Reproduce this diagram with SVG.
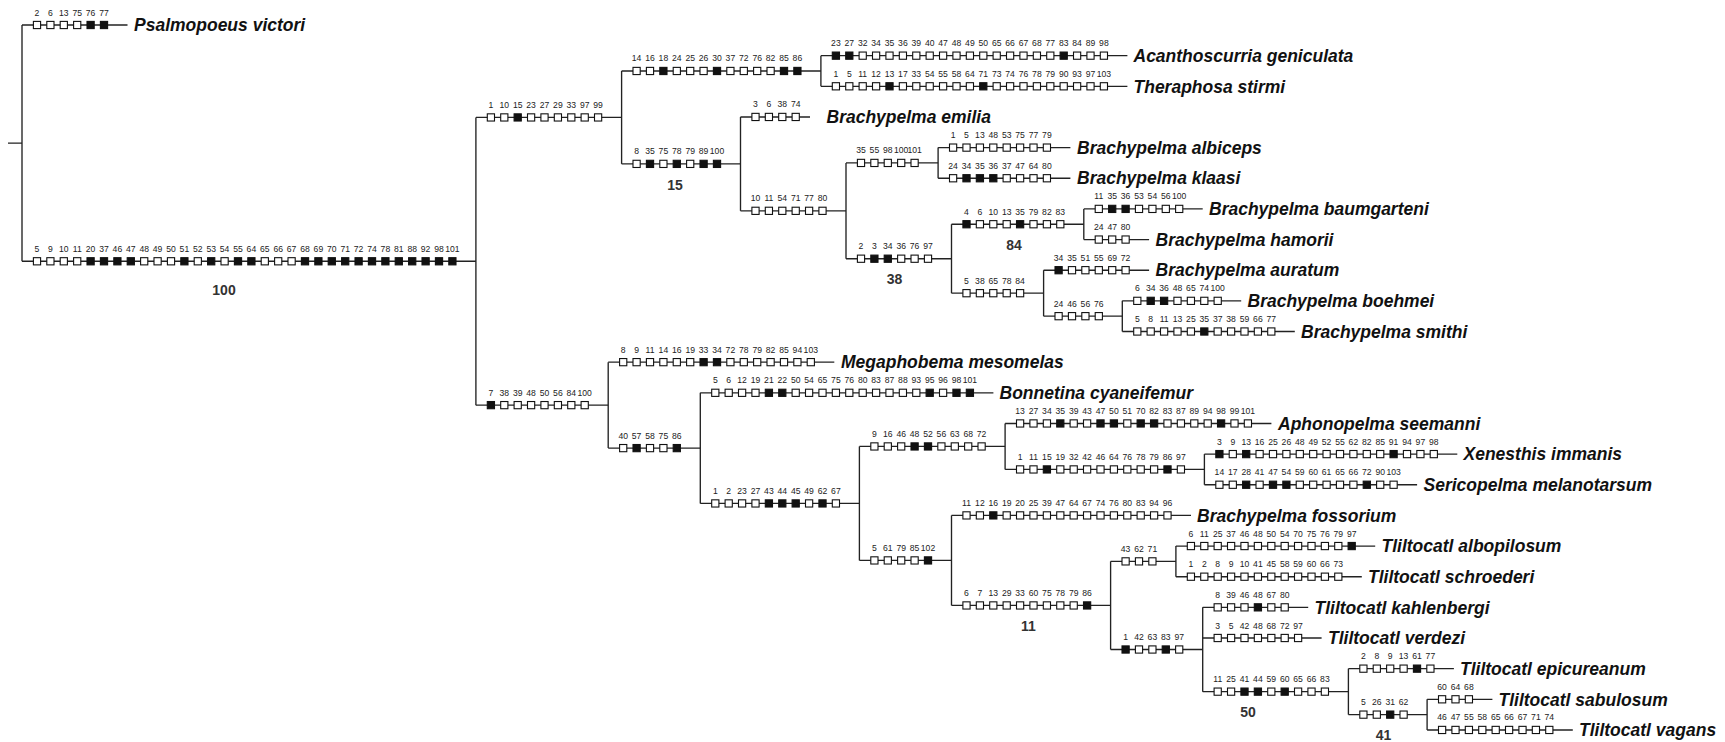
<svg xmlns="http://www.w3.org/2000/svg" width="1725" height="742" viewBox="0 0 1725 742">
<style>
text{font-family:"Liberation Sans",Arial,sans-serif;font-size:8.6px;fill:#222;text-anchor:middle}
text.t{font-size:17.5px;font-weight:bold;font-style:italic;fill:#111;text-anchor:start}
text.b{font-size:14px;font-weight:bold;fill:#333;text-anchor:middle}
.c path{fill:none;stroke:#222;stroke-width:1.35}
</style>
<defs>
<rect id="o" x="-3.6" y="-3.6" width="7.2" height="7.2" fill="#fff" stroke="#111" stroke-width="1.1"/>
<rect id="f" x="-3.6" y="-3.6" width="7.2" height="7.2" fill="#111" stroke="#111" stroke-width="1.1"/>
</defs>
<rect width="1725" height="742" fill="#fff"/>
<g id="connectors" class="c">
<path d="M8 143.14H22M22 25V261.28"/>
<path d="M22 25H127.5"/>
<path d="M22 261.28H475.9"/>
<path d="M475.9 117.43V405.13"/>
<path d="M475.9 117.43H621.6"/>
<path d="M621.6 70.98V163.88"/>
<path d="M621.6 70.98H820.9"/>
<path d="M820.9 55.65V86.3"/>
<path d="M820.9 55.65H1127.4"/>
<path d="M820.9 86.3H1127.4"/>
<path d="M621.6 163.88H740.5"/>
<path d="M740.5 116.95V210.82"/>
<path d="M740.5 116.95H810"/>
<path d="M740.5 210.82H846"/>
<path d="M846 162.93V258.71"/>
<path d="M846 162.93H938.1"/>
<path d="M938.1 147.6V178.25"/>
<path d="M938.1 147.6H1070.4"/>
<path d="M938.1 178.25H1070.4"/>
<path d="M846 258.71H951.5"/>
<path d="M951.5 224.23V293.19"/>
<path d="M951.5 224.23H1083.8"/>
<path d="M1083.8 208.9V239.55"/>
<path d="M1083.8 208.9H1202.7"/>
<path d="M1083.8 239.55H1149.1"/>
<path d="M951.5 293.19H1043.6"/>
<path d="M1043.6 270.2V316.18"/>
<path d="M1043.6 270.2H1149.1"/>
<path d="M1043.6 316.18H1122.3"/>
<path d="M1122.3 300.85V331.5"/>
<path d="M1122.3 300.85H1241.2"/>
<path d="M1122.3 331.5H1294.8"/>
<path d="M475.9 405.13H608.2"/>
<path d="M608.2 362.15V448.11"/>
<path d="M608.2 362.15H834.3"/>
<path d="M608.2 448.11H700.3"/>
<path d="M700.3 392.8V503.43"/>
<path d="M700.3 392.8H993.4"/>
<path d="M700.3 503.43H859.4"/>
<path d="M859.4 446.44V560.42"/>
<path d="M859.4 446.44H1005.1"/>
<path d="M1005.1 423.45V469.43"/>
<path d="M1005.1 423.45H1271.4"/>
<path d="M1005.1 469.43H1204.4"/>
<path d="M1204.4 454.1V484.75"/>
<path d="M1204.4 454.1H1457.3"/>
<path d="M1204.4 484.75H1417.1"/>
<path d="M859.4 560.42H951.5"/>
<path d="M951.5 515.4V605.44"/>
<path d="M951.5 515.4H1191"/>
<path d="M951.5 605.44H1110.6"/>
<path d="M1110.6 561.38V649.5"/>
<path d="M1110.6 561.38H1175.9"/>
<path d="M1175.9 546.05V576.7"/>
<path d="M1175.9 546.05H1375.2"/>
<path d="M1175.9 576.7H1361.8"/>
<path d="M1110.6 649.5H1202.7"/>
<path d="M1202.7 607.35V691.64"/>
<path d="M1202.7 607.35H1308.2"/>
<path d="M1202.7 638H1321.6"/>
<path d="M1202.7 691.64H1348.4"/>
<path d="M1348.4 668.65V714.63"/>
<path d="M1348.4 668.65H1453.9"/>
<path d="M1348.4 714.63H1427.1"/>
<path d="M1427.1 699.3V729.95"/>
<path d="M1427.1 699.3H1492.4"/>
<path d="M1427.1 729.95H1572.8"/>
</g>

<g id="psalmopoeus-victori">
<g transform="translate(37,25)">
<use href="#o"/><text y="-9.5">2</text>
<use href="#o" x="13.4"/><text x="13.4" y="-9.5">6</text>
<use href="#o" x="26.8"/><text x="26.8" y="-9.5">13</text>
<use href="#o" x="40.2"/><text x="40.2" y="-9.5">75</text>
<use href="#f" x="53.6"/><text x="53.6" y="-9.5">76</text>
<use href="#f" x="67"/><text x="67" y="-9.5">77</text>
</g>
<text class="t" x="134" y="31.2">Psalmopoeus victori</text>
</g>

<g id="node-ingroup">
<g transform="translate(37,261.28)">
<use href="#o"/><text y="-9.5">5</text>
<use href="#o" x="13.4"/><text x="13.4" y="-9.5">9</text>
<use href="#o" x="26.8"/><text x="26.8" y="-9.5">10</text>
<use href="#o" x="40.2"/><text x="40.2" y="-9.5">11</text>
<use href="#f" x="53.6"/><text x="53.6" y="-9.5">20</text>
<use href="#f" x="67"/><text x="67" y="-9.5">37</text>
<use href="#f" x="80.4"/><text x="80.4" y="-9.5">46</text>
<use href="#f" x="93.8"/><text x="93.8" y="-9.5">47</text>
<use href="#o" x="107.2"/><text x="107.2" y="-9.5">48</text>
<use href="#o" x="120.6"/><text x="120.6" y="-9.5">49</text>
<use href="#o" x="134"/><text x="134" y="-9.5">50</text>
<use href="#f" x="147.4"/><text x="147.4" y="-9.5">51</text>
<use href="#o" x="160.8"/><text x="160.8" y="-9.5">52</text>
<use href="#f" x="174.2"/><text x="174.2" y="-9.5">53</text>
<use href="#o" x="187.6"/><text x="187.6" y="-9.5">54</text>
<use href="#f" x="201"/><text x="201" y="-9.5">55</text>
<use href="#f" x="214.4"/><text x="214.4" y="-9.5">64</text>
<use href="#o" x="227.8"/><text x="227.8" y="-9.5">65</text>
<use href="#o" x="241.2"/><text x="241.2" y="-9.5">66</text>
<use href="#o" x="254.6"/><text x="254.6" y="-9.5">67</text>
<use href="#f" x="268"/><text x="268" y="-9.5">68</text>
<use href="#f" x="281.4"/><text x="281.4" y="-9.5">69</text>
<use href="#f" x="294.8"/><text x="294.8" y="-9.5">70</text>
<use href="#f" x="308.2"/><text x="308.2" y="-9.5">71</text>
<use href="#f" x="321.6"/><text x="321.6" y="-9.5">72</text>
<use href="#f" x="335"/><text x="335" y="-9.5">74</text>
<use href="#f" x="348.4"/><text x="348.4" y="-9.5">78</text>
<use href="#f" x="361.8"/><text x="361.8" y="-9.5">81</text>
<use href="#f" x="375.2"/><text x="375.2" y="-9.5">88</text>
<use href="#f" x="388.6"/><text x="388.6" y="-9.5">92</text>
<use href="#f" x="402"/><text x="402" y="-9.5">98</text>
<use href="#f" x="415.4"/><text x="415.4" y="-9.5">101</text>
</g>
<text class="b" x="224" y="294.5">100</text>
</g>

<g id="node-a">
<g transform="translate(490.9,117.43)">
<use href="#o"/><text y="-9.5">1</text>
<use href="#o" x="13.4"/><text x="13.4" y="-9.5">10</text>
<use href="#f" x="26.8"/><text x="26.8" y="-9.5">15</text>
<use href="#o" x="40.2"/><text x="40.2" y="-9.5">23</text>
<use href="#o" x="53.6"/><text x="53.6" y="-9.5">27</text>
<use href="#o" x="67"/><text x="67" y="-9.5">29</text>
<use href="#o" x="80.4"/><text x="80.4" y="-9.5">33</text>
<use href="#o" x="93.8"/><text x="93.8" y="-9.5">97</text>
<use href="#o" x="107.2"/><text x="107.2" y="-9.5">99</text>
</g>
</g>

<g id="node-b">
<g transform="translate(636.6,70.98)">
<use href="#o"/><text y="-9.5">14</text>
<use href="#o" x="13.4"/><text x="13.4" y="-9.5">16</text>
<use href="#f" x="26.8"/><text x="26.8" y="-9.5">18</text>
<use href="#o" x="40.2"/><text x="40.2" y="-9.5">24</text>
<use href="#o" x="53.6"/><text x="53.6" y="-9.5">25</text>
<use href="#o" x="67"/><text x="67" y="-9.5">26</text>
<use href="#f" x="80.4"/><text x="80.4" y="-9.5">30</text>
<use href="#o" x="93.8"/><text x="93.8" y="-9.5">37</text>
<use href="#o" x="107.2"/><text x="107.2" y="-9.5">72</text>
<use href="#o" x="120.6"/><text x="120.6" y="-9.5">76</text>
<use href="#o" x="134"/><text x="134" y="-9.5">82</text>
<use href="#f" x="147.4"/><text x="147.4" y="-9.5">85</text>
<use href="#f" x="160.8"/><text x="160.8" y="-9.5">86</text>
</g>
</g>

<g id="acanthoscurria-geniculata">
<g transform="translate(835.9,55.65)">
<use href="#f"/><text y="-9.5">23</text>
<use href="#f" x="13.4"/><text x="13.4" y="-9.5">27</text>
<use href="#o" x="26.8"/><text x="26.8" y="-9.5">32</text>
<use href="#o" x="40.2"/><text x="40.2" y="-9.5">34</text>
<use href="#o" x="53.6"/><text x="53.6" y="-9.5">35</text>
<use href="#o" x="67"/><text x="67" y="-9.5">36</text>
<use href="#o" x="80.4"/><text x="80.4" y="-9.5">39</text>
<use href="#o" x="93.8"/><text x="93.8" y="-9.5">40</text>
<use href="#o" x="107.2"/><text x="107.2" y="-9.5">47</text>
<use href="#o" x="120.6"/><text x="120.6" y="-9.5">48</text>
<use href="#o" x="134"/><text x="134" y="-9.5">49</text>
<use href="#o" x="147.4"/><text x="147.4" y="-9.5">50</text>
<use href="#o" x="160.8"/><text x="160.8" y="-9.5">65</text>
<use href="#o" x="174.2"/><text x="174.2" y="-9.5">66</text>
<use href="#o" x="187.6"/><text x="187.6" y="-9.5">67</text>
<use href="#o" x="201"/><text x="201" y="-9.5">68</text>
<use href="#o" x="214.4"/><text x="214.4" y="-9.5">77</text>
<use href="#f" x="227.8"/><text x="227.8" y="-9.5">83</text>
<use href="#o" x="241.2"/><text x="241.2" y="-9.5">84</text>
<use href="#o" x="254.6"/><text x="254.6" y="-9.5">89</text>
<use href="#o" x="268"/><text x="268" y="-9.5">98</text>
</g>
<text class="t" x="1133.5" y="61.85">Acanthoscurria geniculata</text>
</g>

<g id="theraphosa-stirmi">
<g transform="translate(835.9,86.3)">
<use href="#o"/><text y="-9.5">1</text>
<use href="#o" x="13.4"/><text x="13.4" y="-9.5">5</text>
<use href="#o" x="26.8"/><text x="26.8" y="-9.5">11</text>
<use href="#o" x="40.2"/><text x="40.2" y="-9.5">12</text>
<use href="#f" x="53.6"/><text x="53.6" y="-9.5">13</text>
<use href="#o" x="67"/><text x="67" y="-9.5">17</text>
<use href="#o" x="80.4"/><text x="80.4" y="-9.5">33</text>
<use href="#o" x="93.8"/><text x="93.8" y="-9.5">54</text>
<use href="#o" x="107.2"/><text x="107.2" y="-9.5">55</text>
<use href="#o" x="120.6"/><text x="120.6" y="-9.5">58</text>
<use href="#o" x="134"/><text x="134" y="-9.5">64</text>
<use href="#f" x="147.4"/><text x="147.4" y="-9.5">71</text>
<use href="#o" x="160.8"/><text x="160.8" y="-9.5">73</text>
<use href="#o" x="174.2"/><text x="174.2" y="-9.5">74</text>
<use href="#o" x="187.6"/><text x="187.6" y="-9.5">76</text>
<use href="#o" x="201"/><text x="201" y="-9.5">78</text>
<use href="#o" x="214.4"/><text x="214.4" y="-9.5">79</text>
<use href="#o" x="227.8"/><text x="227.8" y="-9.5">90</text>
<use href="#o" x="241.2"/><text x="241.2" y="-9.5">93</text>
<use href="#o" x="254.6"/><text x="254.6" y="-9.5">97</text>
<use href="#o" x="268"/><text x="268" y="-9.5">103</text>
</g>
<text class="t" x="1133.5" y="92.5">Theraphosa stirmi</text>
</g>

<g id="node-c">
<g transform="translate(636.6,163.88)">
<use href="#o"/><text y="-9.5">8</text>
<use href="#f" x="13.4"/><text x="13.4" y="-9.5">35</text>
<use href="#o" x="26.8"/><text x="26.8" y="-9.5">75</text>
<use href="#f" x="40.2"/><text x="40.2" y="-9.5">78</text>
<use href="#o" x="53.6"/><text x="53.6" y="-9.5">79</text>
<use href="#f" x="67"/><text x="67" y="-9.5">89</text>
<use href="#f" x="80.4"/><text x="80.4" y="-9.5">100</text>
</g>
<text class="b" x="675" y="189.5">15</text>
</g>

<g id="brachypelma-emilia">
<g transform="translate(755.5,116.95)">
<use href="#o"/><text y="-9.5">3</text>
<use href="#o" x="13.4"/><text x="13.4" y="-9.5">6</text>
<use href="#o" x="26.8"/><text x="26.8" y="-9.5">38</text>
<use href="#o" x="40.2"/><text x="40.2" y="-9.5">74</text>
</g>
<text class="t" x="826.5" y="123.15">Brachypelma emilia</text>
</g>

<g id="node-d">
<g transform="translate(755.5,210.82)">
<use href="#o"/><text y="-9.5">10</text>
<use href="#o" x="13.4"/><text x="13.4" y="-9.5">11</text>
<use href="#o" x="26.8"/><text x="26.8" y="-9.5">54</text>
<use href="#o" x="40.2"/><text x="40.2" y="-9.5">71</text>
<use href="#o" x="53.6"/><text x="53.6" y="-9.5">77</text>
<use href="#o" x="67"/><text x="67" y="-9.5">80</text>
</g>
</g>

<g id="node-e">
<g transform="translate(861,162.93)">
<use href="#o"/><text y="-9.5">35</text>
<use href="#o" x="13.4"/><text x="13.4" y="-9.5">55</text>
<use href="#o" x="26.8"/><text x="26.8" y="-9.5">98</text>
<use href="#o" x="40.2"/><text x="40.2" y="-9.5">100</text>
<use href="#o" x="53.6"/><text x="53.6" y="-9.5">101</text>
</g>
</g>

<g id="brachypelma-albiceps">
<g transform="translate(953.1,147.6)">
<use href="#o"/><text y="-9.5">1</text>
<use href="#o" x="13.4"/><text x="13.4" y="-9.5">5</text>
<use href="#o" x="26.8"/><text x="26.8" y="-9.5">13</text>
<use href="#o" x="40.2"/><text x="40.2" y="-9.5">48</text>
<use href="#o" x="53.6"/><text x="53.6" y="-9.5">53</text>
<use href="#o" x="67"/><text x="67" y="-9.5">75</text>
<use href="#o" x="80.4"/><text x="80.4" y="-9.5">77</text>
<use href="#o" x="93.8"/><text x="93.8" y="-9.5">79</text>
</g>
<text class="t" x="1077" y="153.8">Brachypelma albiceps</text>
</g>

<g id="brachypelma-klaasi">
<g transform="translate(953.1,178.25)">
<use href="#o"/><text y="-9.5">24</text>
<use href="#f" x="13.4"/><text x="13.4" y="-9.5">34</text>
<use href="#f" x="26.8"/><text x="26.8" y="-9.5">35</text>
<use href="#f" x="40.2"/><text x="40.2" y="-9.5">36</text>
<use href="#o" x="53.6"/><text x="53.6" y="-9.5">37</text>
<use href="#o" x="67"/><text x="67" y="-9.5">47</text>
<use href="#o" x="80.4"/><text x="80.4" y="-9.5">64</text>
<use href="#o" x="93.8"/><text x="93.8" y="-9.5">80</text>
</g>
<text class="t" x="1077" y="184.45">Brachypelma klaasi</text>
</g>

<g id="node-g">
<g transform="translate(861,258.71)">
<use href="#o"/><text y="-9.5">2</text>
<use href="#f" x="13.4"/><text x="13.4" y="-9.5">3</text>
<use href="#f" x="26.8"/><text x="26.8" y="-9.5">34</text>
<use href="#o" x="40.2"/><text x="40.2" y="-9.5">36</text>
<use href="#o" x="53.6"/><text x="53.6" y="-9.5">76</text>
<use href="#o" x="67"/><text x="67" y="-9.5">97</text>
</g>
<text class="b" x="894.5" y="284">38</text>
</g>

<g id="node-i">
<g transform="translate(966.5,224.23)">
<use href="#f"/><text y="-9.5">4</text>
<use href="#o" x="13.4"/><text x="13.4" y="-9.5">6</text>
<use href="#o" x="26.8"/><text x="26.8" y="-9.5">10</text>
<use href="#o" x="40.2"/><text x="40.2" y="-9.5">13</text>
<use href="#f" x="53.6"/><text x="53.6" y="-9.5">35</text>
<use href="#o" x="67"/><text x="67" y="-9.5">79</text>
<use href="#o" x="80.4"/><text x="80.4" y="-9.5">82</text>
<use href="#o" x="93.8"/><text x="93.8" y="-9.5">83</text>
</g>
<text class="b" x="1014" y="249.5">84</text>
</g>

<g id="brachypelma-baumgarteni">
<g transform="translate(1098.8,208.9)">
<use href="#o"/><text y="-9.5">11</text>
<use href="#f" x="13.4"/><text x="13.4" y="-9.5">35</text>
<use href="#f" x="26.8"/><text x="26.8" y="-9.5">36</text>
<use href="#o" x="40.2"/><text x="40.2" y="-9.5">53</text>
<use href="#o" x="53.6"/><text x="53.6" y="-9.5">54</text>
<use href="#o" x="67"/><text x="67" y="-9.5">56</text>
<use href="#o" x="80.4"/><text x="80.4" y="-9.5">100</text>
</g>
<text class="t" x="1209" y="215.1">Brachypelma baumgarteni</text>
</g>

<g id="brachypelma-hamorii">
<g transform="translate(1098.8,239.55)">
<use href="#o"/><text y="-9.5">24</text>
<use href="#o" x="13.4"/><text x="13.4" y="-9.5">47</text>
<use href="#o" x="26.8"/><text x="26.8" y="-9.5">80</text>
</g>
<text class="t" x="1155.5" y="245.75">Brachypelma hamorii</text>
</g>

<g id="node-k">
<g transform="translate(966.5,293.19)">
<use href="#o"/><text y="-9.5">5</text>
<use href="#o" x="13.4"/><text x="13.4" y="-9.5">38</text>
<use href="#o" x="26.8"/><text x="26.8" y="-9.5">65</text>
<use href="#o" x="40.2"/><text x="40.2" y="-9.5">78</text>
<use href="#o" x="53.6"/><text x="53.6" y="-9.5">84</text>
</g>
</g>

<g id="brachypelma-auratum">
<g transform="translate(1058.6,270.2)">
<use href="#f"/><text y="-9.5">34</text>
<use href="#o" x="13.4"/><text x="13.4" y="-9.5">35</text>
<use href="#o" x="26.8"/><text x="26.8" y="-9.5">51</text>
<use href="#o" x="40.2"/><text x="40.2" y="-9.5">55</text>
<use href="#o" x="53.6"/><text x="53.6" y="-9.5">69</text>
<use href="#o" x="67"/><text x="67" y="-9.5">72</text>
</g>
<text class="t" x="1155.5" y="276.4">Brachypelma auratum</text>
</g>

<g id="node-m">
<g transform="translate(1058.6,316.18)">
<use href="#o"/><text y="-9.5">24</text>
<use href="#o" x="13.4"/><text x="13.4" y="-9.5">46</text>
<use href="#o" x="26.8"/><text x="26.8" y="-9.5">56</text>
<use href="#o" x="40.2"/><text x="40.2" y="-9.5">76</text>
</g>
</g>

<g id="brachypelma-boehmei">
<g transform="translate(1137.3,300.85)">
<use href="#o"/><text y="-9.5">6</text>
<use href="#f" x="13.4"/><text x="13.4" y="-9.5">34</text>
<use href="#f" x="26.8"/><text x="26.8" y="-9.5">36</text>
<use href="#o" x="40.2"/><text x="40.2" y="-9.5">48</text>
<use href="#o" x="53.6"/><text x="53.6" y="-9.5">65</text>
<use href="#o" x="67"/><text x="67" y="-9.5">74</text>
<use href="#o" x="80.4"/><text x="80.4" y="-9.5">100</text>
</g>
<text class="t" x="1247.5" y="307.05">Brachypelma boehmei</text>
</g>

<g id="brachypelma-smithi">
<g transform="translate(1137.3,331.5)">
<use href="#o"/><text y="-9.5">5</text>
<use href="#o" x="13.4"/><text x="13.4" y="-9.5">8</text>
<use href="#o" x="26.8"/><text x="26.8" y="-9.5">11</text>
<use href="#o" x="40.2"/><text x="40.2" y="-9.5">13</text>
<use href="#o" x="53.6"/><text x="53.6" y="-9.5">25</text>
<use href="#f" x="67"/><text x="67" y="-9.5">35</text>
<use href="#o" x="80.4"/><text x="80.4" y="-9.5">37</text>
<use href="#o" x="93.8"/><text x="93.8" y="-9.5">38</text>
<use href="#o" x="107.2"/><text x="107.2" y="-9.5">59</text>
<use href="#o" x="120.6"/><text x="120.6" y="-9.5">66</text>
<use href="#o" x="134"/><text x="134" y="-9.5">77</text>
</g>
<text class="t" x="1301" y="337.7">Brachypelma smithi</text>
</g>

<g id="node-n">
<g transform="translate(490.9,405.13)">
<use href="#f"/><text y="-9.5">7</text>
<use href="#o" x="13.4"/><text x="13.4" y="-9.5">38</text>
<use href="#o" x="26.8"/><text x="26.8" y="-9.5">39</text>
<use href="#o" x="40.2"/><text x="40.2" y="-9.5">48</text>
<use href="#o" x="53.6"/><text x="53.6" y="-9.5">50</text>
<use href="#o" x="67"/><text x="67" y="-9.5">56</text>
<use href="#o" x="80.4"/><text x="80.4" y="-9.5">84</text>
<use href="#o" x="93.8"/><text x="93.8" y="-9.5">100</text>
</g>
</g>

<g id="megaphobema-mesomelas">
<g transform="translate(623.2,362.15)">
<use href="#o"/><text y="-9.5">8</text>
<use href="#o" x="13.4"/><text x="13.4" y="-9.5">9</text>
<use href="#o" x="26.8"/><text x="26.8" y="-9.5">11</text>
<use href="#o" x="40.2"/><text x="40.2" y="-9.5">14</text>
<use href="#o" x="53.6"/><text x="53.6" y="-9.5">16</text>
<use href="#o" x="67"/><text x="67" y="-9.5">19</text>
<use href="#f" x="80.4"/><text x="80.4" y="-9.5">33</text>
<use href="#f" x="93.8"/><text x="93.8" y="-9.5">34</text>
<use href="#o" x="107.2"/><text x="107.2" y="-9.5">72</text>
<use href="#o" x="120.6"/><text x="120.6" y="-9.5">78</text>
<use href="#o" x="134"/><text x="134" y="-9.5">79</text>
<use href="#o" x="147.4"/><text x="147.4" y="-9.5">82</text>
<use href="#o" x="160.8"/><text x="160.8" y="-9.5">85</text>
<use href="#o" x="174.2"/><text x="174.2" y="-9.5">94</text>
<use href="#o" x="187.6"/><text x="187.6" y="-9.5">103</text>
</g>
<text class="t" x="841" y="368.35">Megaphobema mesomelas</text>
</g>

<g id="node-o">
<g transform="translate(623.2,448.11)">
<use href="#o"/><text y="-9.5">40</text>
<use href="#f" x="13.4"/><text x="13.4" y="-9.5">57</text>
<use href="#o" x="26.8"/><text x="26.8" y="-9.5">58</text>
<use href="#o" x="40.2"/><text x="40.2" y="-9.5">75</text>
<use href="#f" x="53.6"/><text x="53.6" y="-9.5">86</text>
</g>
</g>

<g id="bonnetina-cyaneifemur">
<g transform="translate(715.3,392.8)">
<use href="#o"/><text y="-9.5">5</text>
<use href="#o" x="13.4"/><text x="13.4" y="-9.5">6</text>
<use href="#o" x="26.8"/><text x="26.8" y="-9.5">12</text>
<use href="#o" x="40.2"/><text x="40.2" y="-9.5">19</text>
<use href="#f" x="53.6"/><text x="53.6" y="-9.5">21</text>
<use href="#f" x="67"/><text x="67" y="-9.5">22</text>
<use href="#o" x="80.4"/><text x="80.4" y="-9.5">50</text>
<use href="#o" x="93.8"/><text x="93.8" y="-9.5">54</text>
<use href="#o" x="107.2"/><text x="107.2" y="-9.5">65</text>
<use href="#o" x="120.6"/><text x="120.6" y="-9.5">75</text>
<use href="#o" x="134"/><text x="134" y="-9.5">76</text>
<use href="#o" x="147.4"/><text x="147.4" y="-9.5">80</text>
<use href="#o" x="160.8"/><text x="160.8" y="-9.5">83</text>
<use href="#o" x="174.2"/><text x="174.2" y="-9.5">87</text>
<use href="#o" x="187.6"/><text x="187.6" y="-9.5">88</text>
<use href="#o" x="201"/><text x="201" y="-9.5">93</text>
<use href="#f" x="214.4"/><text x="214.4" y="-9.5">95</text>
<use href="#o" x="227.8"/><text x="227.8" y="-9.5">96</text>
<use href="#f" x="241.2"/><text x="241.2" y="-9.5">98</text>
<use href="#f" x="254.6"/><text x="254.6" y="-9.5">101</text>
</g>
<text class="t" x="999.5" y="399">Bonnetina cyaneifemur</text>
</g>

<g id="node-p">
<g transform="translate(715.3,503.43)">
<use href="#o"/><text y="-9.5">1</text>
<use href="#o" x="13.4"/><text x="13.4" y="-9.5">2</text>
<use href="#o" x="26.8"/><text x="26.8" y="-9.5">23</text>
<use href="#o" x="40.2"/><text x="40.2" y="-9.5">27</text>
<use href="#f" x="53.6"/><text x="53.6" y="-9.5">43</text>
<use href="#f" x="67"/><text x="67" y="-9.5">44</text>
<use href="#f" x="80.4"/><text x="80.4" y="-9.5">45</text>
<use href="#o" x="93.8"/><text x="93.8" y="-9.5">49</text>
<use href="#f" x="107.2"/><text x="107.2" y="-9.5">62</text>
<use href="#o" x="120.6"/><text x="120.6" y="-9.5">67</text>
</g>
</g>

<g id="node-u">
<g transform="translate(874.4,446.44)">
<use href="#o"/><text y="-9.5">9</text>
<use href="#o" x="13.4"/><text x="13.4" y="-9.5">16</text>
<use href="#o" x="26.8"/><text x="26.8" y="-9.5">46</text>
<use href="#f" x="40.2"/><text x="40.2" y="-9.5">48</text>
<use href="#f" x="53.6"/><text x="53.6" y="-9.5">52</text>
<use href="#o" x="67"/><text x="67" y="-9.5">56</text>
<use href="#o" x="80.4"/><text x="80.4" y="-9.5">63</text>
<use href="#o" x="93.8"/><text x="93.8" y="-9.5">68</text>
<use href="#o" x="107.2"/><text x="107.2" y="-9.5">72</text>
</g>
</g>

<g id="aphonopelma-seemanni">
<g transform="translate(1020.1,423.45)">
<use href="#o"/><text y="-9.5">13</text>
<use href="#o" x="13.4"/><text x="13.4" y="-9.5">27</text>
<use href="#o" x="26.8"/><text x="26.8" y="-9.5">34</text>
<use href="#f" x="40.2"/><text x="40.2" y="-9.5">35</text>
<use href="#o" x="53.6"/><text x="53.6" y="-9.5">39</text>
<use href="#o" x="67"/><text x="67" y="-9.5">43</text>
<use href="#f" x="80.4"/><text x="80.4" y="-9.5">47</text>
<use href="#f" x="93.8"/><text x="93.8" y="-9.5">50</text>
<use href="#o" x="107.2"/><text x="107.2" y="-9.5">51</text>
<use href="#f" x="120.6"/><text x="120.6" y="-9.5">70</text>
<use href="#f" x="134"/><text x="134" y="-9.5">82</text>
<use href="#o" x="147.4"/><text x="147.4" y="-9.5">83</text>
<use href="#o" x="160.8"/><text x="160.8" y="-9.5">87</text>
<use href="#o" x="174.2"/><text x="174.2" y="-9.5">89</text>
<use href="#o" x="187.6"/><text x="187.6" y="-9.5">94</text>
<use href="#f" x="201"/><text x="201" y="-9.5">98</text>
<use href="#o" x="214.4"/><text x="214.4" y="-9.5">99</text>
<use href="#o" x="227.8"/><text x="227.8" y="-9.5">101</text>
</g>
<text class="t" x="1278" y="429.65">Aphonopelma seemanni</text>
</g>

<g id="node-v">
<g transform="translate(1020.1,469.43)">
<use href="#o"/><text y="-9.5">1</text>
<use href="#o" x="13.4"/><text x="13.4" y="-9.5">11</text>
<use href="#f" x="26.8"/><text x="26.8" y="-9.5">15</text>
<use href="#o" x="40.2"/><text x="40.2" y="-9.5">19</text>
<use href="#o" x="53.6"/><text x="53.6" y="-9.5">32</text>
<use href="#o" x="67"/><text x="67" y="-9.5">42</text>
<use href="#o" x="80.4"/><text x="80.4" y="-9.5">46</text>
<use href="#o" x="93.8"/><text x="93.8" y="-9.5">64</text>
<use href="#o" x="107.2"/><text x="107.2" y="-9.5">76</text>
<use href="#o" x="120.6"/><text x="120.6" y="-9.5">78</text>
<use href="#o" x="134"/><text x="134" y="-9.5">79</text>
<use href="#f" x="147.4"/><text x="147.4" y="-9.5">86</text>
<use href="#o" x="160.8"/><text x="160.8" y="-9.5">97</text>
</g>
</g>

<g id="xenesthis-immanis">
<g transform="translate(1219.4,454.1)">
<use href="#f"/><text y="-9.5">3</text>
<use href="#o" x="13.4"/><text x="13.4" y="-9.5">9</text>
<use href="#f" x="26.8"/><text x="26.8" y="-9.5">13</text>
<use href="#o" x="40.2"/><text x="40.2" y="-9.5">16</text>
<use href="#o" x="53.6"/><text x="53.6" y="-9.5">25</text>
<use href="#o" x="67"/><text x="67" y="-9.5">26</text>
<use href="#o" x="80.4"/><text x="80.4" y="-9.5">48</text>
<use href="#o" x="93.8"/><text x="93.8" y="-9.5">49</text>
<use href="#o" x="107.2"/><text x="107.2" y="-9.5">52</text>
<use href="#o" x="120.6"/><text x="120.6" y="-9.5">55</text>
<use href="#o" x="134"/><text x="134" y="-9.5">62</text>
<use href="#o" x="147.4"/><text x="147.4" y="-9.5">82</text>
<use href="#o" x="160.8"/><text x="160.8" y="-9.5">85</text>
<use href="#f" x="174.2"/><text x="174.2" y="-9.5">91</text>
<use href="#o" x="187.6"/><text x="187.6" y="-9.5">94</text>
<use href="#o" x="201"/><text x="201" y="-9.5">97</text>
<use href="#o" x="214.4"/><text x="214.4" y="-9.5">98</text>
</g>
<text class="t" x="1463.5" y="460.3">Xenesthis immanis</text>
</g>

<g id="sericopelma-melanotarsum">
<g transform="translate(1219.4,484.75)">
<use href="#o"/><text y="-9.5">14</text>
<use href="#o" x="13.4"/><text x="13.4" y="-9.5">17</text>
<use href="#f" x="26.8"/><text x="26.8" y="-9.5">28</text>
<use href="#o" x="40.2"/><text x="40.2" y="-9.5">41</text>
<use href="#f" x="53.6"/><text x="53.6" y="-9.5">47</text>
<use href="#f" x="67"/><text x="67" y="-9.5">54</text>
<use href="#o" x="80.4"/><text x="80.4" y="-9.5">59</text>
<use href="#o" x="93.8"/><text x="93.8" y="-9.5">60</text>
<use href="#o" x="107.2"/><text x="107.2" y="-9.5">61</text>
<use href="#o" x="120.6"/><text x="120.6" y="-9.5">65</text>
<use href="#o" x="134"/><text x="134" y="-9.5">66</text>
<use href="#f" x="147.4"/><text x="147.4" y="-9.5">72</text>
<use href="#o" x="160.8"/><text x="160.8" y="-9.5">90</text>
<use href="#o" x="174.2"/><text x="174.2" y="-9.5">103</text>
</g>
<text class="t" x="1423.5" y="490.95">Sericopelma melanotarsum</text>
</g>

<g id="node-q">
<g transform="translate(874.4,560.42)">
<use href="#o"/><text y="-9.5">5</text>
<use href="#o" x="13.4"/><text x="13.4" y="-9.5">61</text>
<use href="#o" x="26.8"/><text x="26.8" y="-9.5">79</text>
<use href="#o" x="40.2"/><text x="40.2" y="-9.5">85</text>
<use href="#f" x="53.6"/><text x="53.6" y="-9.5">102</text>
</g>
</g>

<g id="brachypelma-fossorium">
<g transform="translate(966.5,515.4)">
<use href="#o"/><text y="-9.5">11</text>
<use href="#o" x="13.4"/><text x="13.4" y="-9.5">12</text>
<use href="#f" x="26.8"/><text x="26.8" y="-9.5">16</text>
<use href="#o" x="40.2"/><text x="40.2" y="-9.5">19</text>
<use href="#o" x="53.6"/><text x="53.6" y="-9.5">20</text>
<use href="#o" x="67"/><text x="67" y="-9.5">25</text>
<use href="#o" x="80.4"/><text x="80.4" y="-9.5">39</text>
<use href="#o" x="93.8"/><text x="93.8" y="-9.5">47</text>
<use href="#o" x="107.2"/><text x="107.2" y="-9.5">64</text>
<use href="#o" x="120.6"/><text x="120.6" y="-9.5">67</text>
<use href="#o" x="134"/><text x="134" y="-9.5">74</text>
<use href="#o" x="147.4"/><text x="147.4" y="-9.5">76</text>
<use href="#o" x="160.8"/><text x="160.8" y="-9.5">80</text>
<use href="#o" x="174.2"/><text x="174.2" y="-9.5">83</text>
<use href="#o" x="187.6"/><text x="187.6" y="-9.5">94</text>
<use href="#o" x="201"/><text x="201" y="-9.5">96</text>
</g>
<text class="t" x="1197" y="521.6">Brachypelma fossorium</text>
</g>

<g id="node-r">
<g transform="translate(966.5,605.44)">
<use href="#o"/><text y="-9.5">6</text>
<use href="#o" x="13.4"/><text x="13.4" y="-9.5">7</text>
<use href="#o" x="26.8"/><text x="26.8" y="-9.5">13</text>
<use href="#o" x="40.2"/><text x="40.2" y="-9.5">29</text>
<use href="#o" x="53.6"/><text x="53.6" y="-9.5">33</text>
<use href="#o" x="67"/><text x="67" y="-9.5">60</text>
<use href="#o" x="80.4"/><text x="80.4" y="-9.5">75</text>
<use href="#o" x="93.8"/><text x="93.8" y="-9.5">78</text>
<use href="#o" x="107.2"/><text x="107.2" y="-9.5">79</text>
<use href="#f" x="120.6"/><text x="120.6" y="-9.5">86</text>
</g>
<text class="b" x="1028.4" y="630.9">11</text>
</g>

<g id="node-s">
<g transform="translate(1125.6,561.38)">
<use href="#o"/><text y="-9.5">43</text>
<use href="#o" x="13.4"/><text x="13.4" y="-9.5">62</text>
<use href="#o" x="26.8"/><text x="26.8" y="-9.5">71</text>
</g>
</g>

<g id="tliltocatl-albopilosum">
<g transform="translate(1190.9,546.05)">
<use href="#o"/><text y="-9.5">6</text>
<use href="#o" x="13.4"/><text x="13.4" y="-9.5">11</text>
<use href="#o" x="26.8"/><text x="26.8" y="-9.5">25</text>
<use href="#o" x="40.2"/><text x="40.2" y="-9.5">37</text>
<use href="#o" x="53.6"/><text x="53.6" y="-9.5">46</text>
<use href="#o" x="67"/><text x="67" y="-9.5">48</text>
<use href="#o" x="80.4"/><text x="80.4" y="-9.5">50</text>
<use href="#o" x="93.8"/><text x="93.8" y="-9.5">54</text>
<use href="#o" x="107.2"/><text x="107.2" y="-9.5">70</text>
<use href="#o" x="120.6"/><text x="120.6" y="-9.5">75</text>
<use href="#o" x="134"/><text x="134" y="-9.5">76</text>
<use href="#o" x="147.4"/><text x="147.4" y="-9.5">79</text>
<use href="#f" x="160.8"/><text x="160.8" y="-9.5">97</text>
</g>
<text class="t" x="1381.5" y="552.25">Tliltocatl albopilosum</text>
</g>

<g id="tliltocatl-schroederi">
<g transform="translate(1190.9,576.7)">
<use href="#o"/><text y="-9.5">1</text>
<use href="#o" x="13.4"/><text x="13.4" y="-9.5">2</text>
<use href="#o" x="26.8"/><text x="26.8" y="-9.5">8</text>
<use href="#o" x="40.2"/><text x="40.2" y="-9.5">9</text>
<use href="#o" x="53.6"/><text x="53.6" y="-9.5">10</text>
<use href="#o" x="67"/><text x="67" y="-9.5">41</text>
<use href="#o" x="80.4"/><text x="80.4" y="-9.5">45</text>
<use href="#o" x="93.8"/><text x="93.8" y="-9.5">58</text>
<use href="#o" x="107.2"/><text x="107.2" y="-9.5">59</text>
<use href="#o" x="120.6"/><text x="120.6" y="-9.5">60</text>
<use href="#o" x="134"/><text x="134" y="-9.5">66</text>
<use href="#o" x="147.4"/><text x="147.4" y="-9.5">73</text>
</g>
<text class="t" x="1368" y="582.9">Tliltocatl schroederi</text>
</g>

<g id="node-t">
<g transform="translate(1125.6,649.5)">
<use href="#f"/><text y="-9.5">1</text>
<use href="#o" x="13.4"/><text x="13.4" y="-9.5">42</text>
<use href="#o" x="26.8"/><text x="26.8" y="-9.5">63</text>
<use href="#f" x="40.2"/><text x="40.2" y="-9.5">83</text>
<use href="#o" x="53.6"/><text x="53.6" y="-9.5">97</text>
</g>
</g>

<g id="tliltocatl-kahlenbergi">
<g transform="translate(1217.7,607.35)">
<use href="#o"/><text y="-9.5">8</text>
<use href="#o" x="13.4"/><text x="13.4" y="-9.5">39</text>
<use href="#o" x="26.8"/><text x="26.8" y="-9.5">46</text>
<use href="#f" x="40.2"/><text x="40.2" y="-9.5">48</text>
<use href="#o" x="53.6"/><text x="53.6" y="-9.5">67</text>
<use href="#o" x="67"/><text x="67" y="-9.5">80</text>
</g>
<text class="t" x="1314.5" y="613.55">Tliltocatl kahlenbergi</text>
</g>

<g id="tliltocatl-verdezi">
<g transform="translate(1217.7,638)">
<use href="#o"/><text y="-9.5">3</text>
<use href="#o" x="13.4"/><text x="13.4" y="-9.5">5</text>
<use href="#o" x="26.8"/><text x="26.8" y="-9.5">42</text>
<use href="#o" x="40.2"/><text x="40.2" y="-9.5">48</text>
<use href="#o" x="53.6"/><text x="53.6" y="-9.5">68</text>
<use href="#o" x="67"/><text x="67" y="-9.5">72</text>
<use href="#o" x="80.4"/><text x="80.4" y="-9.5">97</text>
</g>
<text class="t" x="1328" y="644.2">Tliltocatl verdezi</text>
</g>

<g id="node-w">
<g transform="translate(1217.7,691.64)">
<use href="#o"/><text y="-9.5">11</text>
<use href="#o" x="13.4"/><text x="13.4" y="-9.5">25</text>
<use href="#f" x="26.8"/><text x="26.8" y="-9.5">41</text>
<use href="#f" x="40.2"/><text x="40.2" y="-9.5">44</text>
<use href="#o" x="53.6"/><text x="53.6" y="-9.5">59</text>
<use href="#f" x="67"/><text x="67" y="-9.5">60</text>
<use href="#o" x="80.4"/><text x="80.4" y="-9.5">65</text>
<use href="#o" x="93.8"/><text x="93.8" y="-9.5">66</text>
<use href="#o" x="107.2"/><text x="107.2" y="-9.5">83</text>
</g>
<text class="b" x="1248" y="717">50</text>
</g>

<g id="tliltocatl-epicureanum">
<g transform="translate(1363.4,668.65)">
<use href="#o"/><text y="-9.5">2</text>
<use href="#o" x="13.4"/><text x="13.4" y="-9.5">8</text>
<use href="#o" x="26.8"/><text x="26.8" y="-9.5">9</text>
<use href="#o" x="40.2"/><text x="40.2" y="-9.5">13</text>
<use href="#f" x="53.6"/><text x="53.6" y="-9.5">61</text>
<use href="#o" x="67"/><text x="67" y="-9.5">77</text>
</g>
<text class="t" x="1460" y="674.85">Tliltocatl epicureanum</text>
</g>

<g id="node-x">
<g transform="translate(1363.4,714.63)">
<use href="#o"/><text y="-9.5">5</text>
<use href="#o" x="13.4"/><text x="13.4" y="-9.5">26</text>
<use href="#f" x="26.8"/><text x="26.8" y="-9.5">31</text>
<use href="#o" x="40.2"/><text x="40.2" y="-9.5">62</text>
</g>
<text class="b" x="1383.5" y="739.5">41</text>
</g>

<g id="tliltocatl-sabulosum">
<g transform="translate(1442.1,699.3)">
<use href="#o"/><text y="-9.5">60</text>
<use href="#o" x="13.4"/><text x="13.4" y="-9.5">64</text>
<use href="#o" x="26.8"/><text x="26.8" y="-9.5">68</text>
</g>
<text class="t" x="1498.5" y="705.5">Tliltocatl sabulosum</text>
</g>

<g id="tliltocatl-vagans">
<g transform="translate(1442.1,729.95)">
<use href="#o"/><text y="-9.5">46</text>
<use href="#o" x="13.4"/><text x="13.4" y="-9.5">47</text>
<use href="#o" x="26.8"/><text x="26.8" y="-9.5">55</text>
<use href="#o" x="40.2"/><text x="40.2" y="-9.5">58</text>
<use href="#o" x="53.6"/><text x="53.6" y="-9.5">65</text>
<use href="#o" x="67"/><text x="67" y="-9.5">66</text>
<use href="#o" x="80.4"/><text x="80.4" y="-9.5">67</text>
<use href="#o" x="93.8"/><text x="93.8" y="-9.5">71</text>
<use href="#o" x="107.2"/><text x="107.2" y="-9.5">74</text>
</g>
<text class="t" x="1579" y="736.15">Tliltocatl vagans</text>
</g>
</svg>
